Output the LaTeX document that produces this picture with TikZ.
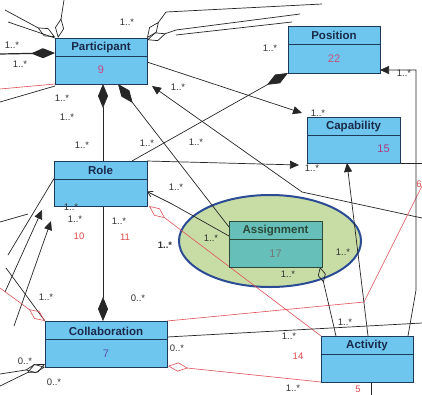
\documentclass[tikz,border=0pt]{standalone}
\usepackage{fontspec}
\newfontfamily\lsans{Liberation Sans}
\usetikzlibrary{arrows.meta,calc,shapes.geometric}
\definecolor{boxblue}{HTML}{6EC6EE}
\definecolor{boxline}{HTML}{1E3A5A}
\definecolor{teal}{HTML}{66BFB8}
\definecolor{tealline}{HTML}{2C4A3A}
\definecolor{ellfill}{HTML}{C8DDA6}
\definecolor{elldraw}{HTML}{2B4C94}
\definecolor{titlecol}{HTML}{1A2A4A}
\definecolor{redl}{HTML}{E0505A}
\definecolor{lblred}{HTML}{E04848}
\definecolor{lbl}{HTML}{333333}
\begin{document}
\begin{tikzpicture}[x=1pt,y=-1pt,
  box/.style={draw=boxline,fill=boxblue,line width=0.9pt,inner sep=0pt,outer sep=0pt},
  abox/.style={draw=tealline,fill=teal,line width=0.9pt,inner sep=0pt,outer sep=0pt},
  ttl/.style={font=\lsans\bfseries\fontsize{11.5}{12}\selectfont,text=titlecol,inner sep=0pt},
  num/.style={font=\lsans\fontsize{11}{12}\selectfont,inner sep=0pt},
  lb/.style={font=\lsans\fontsize{9.5}{10}\selectfont,text=lbl,inner sep=0pt},
  rlb/.style={font=\lsans\fontsize{9.5}{10}\selectfont,text=lblred,inner sep=0pt},
  conn/.style={draw=black!85,line width=0.7pt},
  rconn/.style={draw=redl,line width=0.6pt},
  fdia/.style={{Diamond[length=24pt,width=10pt]}-},
  fdiaend/.style={-{Diamond[length=24pt,width=10pt]}},
  odia/.style={{Diamond[open,length=20pt,width=9pt]}-},
  tri/.style={-{Triangle[length=9pt,width=8pt]}},
  trist/.style={{Triangle[length=9pt,width=8pt]}-},
  divl/.style={draw=boxline,line width=0.8pt}]
\useasboundingbox (0,0) rectangle (422,394);
\clip (0,0) rectangle (422,394);
\fill[white] (0,0) rectangle (422,394);

% ellipse highlight
\node[ellipse,draw=elldraw,fill=ellfill,line width=2pt,minimum width=182pt,minimum height=92pt,inner sep=0pt] (E) at (270,241) {};

% boxes (placed first; drawn later on top)
\path (101,61) node[minimum width=92pt,minimum height=46pt,inner sep=0pt,outer sep=0pt] (P) {};
\path (334,49.5) node[minimum width=92pt,minimum height=47pt,inner sep=0pt,outer sep=0pt] (Pos) {};
\path (353.5,140) node[minimum width=93pt,minimum height=46pt,inner sep=0pt,outer sep=0pt] (C) {};
\path (100.5,183.5) node[minimum width=93pt,minimum height=45pt,inner sep=0pt,outer sep=0pt] (R) {};
\path (275.5,244) node[minimum width=93pt,minimum height=46pt,inner sep=0pt,outer sep=0pt] (A) {};
\path (106,344) node[minimum width=122pt,minimum height=46pt,inner sep=0pt,outer sep=0pt] (Col) {};
\path (367,359) node[minimum width=92pt,minimum height=46pt,inner sep=0pt,outer sep=0pt] (Act) {};

% free ends
\coordinate (a1) at (0,54);
\coordinate (b1) at (0,89);
\coordinate (c1) at (0,102);
\coordinate (d1) at (5,10);
\coordinate (d2) at (64,0);
\coordinate (d3) at (8,22);
\coordinate (e1) at (166,12);
\coordinate (e2) at (322,4);
\coordinate (e3) at (176,30);
\coordinate (e4) at (300,14);
\coordinate (e5) at (176,35);
\coordinate (e6) at (292,22);
\coordinate (i1) at (302,192);
\coordinate (i2) at (422,218);
\coordinate (l1) at (172,204);
\coordinate (o1) at (364,302);
\coordinate (o2) at (426,178);
\coordinate (p1) at (422,323);
\coordinate (t1) at (416,290);
\coordinate (t2) at (416,70);
\coordinate (u1) at (422,163);
\coordinate (v1) at (371,400);
\coordinate (w1) at (8,255);
\coordinate (w2) at (5,292);
\coordinate (w3) at (14,326);
\coordinate (w4) at (0,222);
\coordinate (w5) at (28,214);
\coordinate (x1) at (6,268);
\coordinate (x2) at (0,288);
\coordinate (y1) at (0,374);
\coordinate (y2) at (0,386);

% connectors
\draw[conn,line width=1.2pt,fdia] ($(P.north west)+(0,15)$) -- (a1);
\draw[rconn] (P.south west) -- (b1);
\draw[conn] (c1) -- ($(P.south west)+(0,2)$);
\draw[conn,odia] ($(P.north west)+(0,-1)$) -- (d1);
\draw[conn,odia] ($(P.north west)+(3,0)$) -- (d2);
\draw[conn] (d3) -- (P.north west);
\draw[conn,odia] (P.north east) -- (e1) -- (e2);
\draw[conn,odia] ($(P.north east)+(0,2)$) -- (e3) -- (e4);
\draw[conn] (e5) -- (e6);
\draw[conn,fdia] ($(P.south west)+(48,0)$) -- ($(R.north west)+(49,0)$);
\draw[conn,fdia] ($(P.south west)+(63,0)$) -- ($(A.north west)+(0,6)$);
\draw[conn,tri] ($(P.north east)+(0,24)$) -- ($(C.north west)+(-5,-4)$);
\draw[conn,trist] ($(P.south east)+(5,2)$) -- (i1) -- (i2);
\draw[conn,fdiaend] ($(R.north west)+(78,0)$) -- (Pos.south west);
\draw[conn,tri] (R.north east) -- ($(C.south west)+(-8,2)$);
\draw[conn,{Straight Barb[length=5pt,width=6pt]}-] ($(R.east)+(0,8)$) -- (l1) -- ($(A.west)+(0,-8)$);
\draw[conn,fdiaend] ($(R.south west)+(49,0)$) -- ($(Col.north west)+(58,0)$);
\draw[rconn,odia] ($(R.south east)+(2,0)$) -- (Act.north west);
\draw[rconn] (Col.north east) -- (o1) -- (o2);
\draw[conn] ($(Col.east)+(0,-7)$) -- (p1);
\draw[rconn,odia] ($(Col.south east)+(1,-1)$) -- (Act.south west);
\draw[conn,{Diamond[open,length=16pt,width=8pt]}-] ($(A.south east)+(-2,0)$) -- ($(Act.north west)+(15,0)$);
\draw[conn,tri] ($(Act.north)+(1,0)$) -- ($(C.south west)+(40,0)$);
\draw[conn,tri] ($(Act.north east)+(-5,0)$) -- (t1) -- (t2) -- ($(Pos.south east)+(0,-3)$);
\draw[conn] (C.south east) -- (u1);
\draw[conn] ($(Act.south)+(4,0)$) -- (v1);
\draw[conn] ($(R.west)+(0,-5)$) -- (w1);
\draw[conn,tri] (w2) -- ($(R.south west)+(-12,4)$);
\draw[conn,tri] (w3) -- ($(R.south west)+(-3,15)$);
\draw[conn] (w4) -- (w5);
\draw[conn] (x1) -- (Col.north west);
\draw[rconn,odia] (Col.north west) -- (x2);
\draw[conn,odia] (Col.south west) -- (y1);
\draw[conn,odia] ($(Col.south west)+(0,-3)$) -- (y2);

% boxes drawn
\foreach \n in {P,Pos,C,R,Col,Act}{
  \draw[box] (\n.north west) rectangle (\n.south east);
  \draw[divl] ($(\n.north west)+(0,18)$) -- ($(\n.north east)+(0,18)$);
}
\draw[abox] (A.north west) rectangle (A.south east);
\draw[draw=tealline,line width=0.8pt] ($(A.north west)+(0,18)$) -- ($(A.north east)+(0,18)$);

% titles
\node[ttl] (Pt) at ($(P.north)+(0,9.5)$) {Participant};
\node[ttl] (Post) at ($(Pos.north)+(0,9.5)$) {Position};
\node[ttl] (Ct) at ($(C.north)+(0,10)$) {Capability};
\node[ttl] (Rt) at ($(R.north)+(0,9)$) {Role};
\node[ttl,text=tealline] (At) at ($(A.north)+(0,10)$) {Assignment};
\node[ttl] (Colt) at ($(Col.north)+(0,10)$) {Collaboration};
\node[ttl] (Actt) at ($(Act.north)+(0,10)$) {Activity};

% numbers
\node[num,text={rgb,255:red,210;green,70;blue,130}] (Pn) at ($(P.south)+(0,-14)$) {9};
\node[num,text={rgb,255:red,200;green,80;blue,120}] (Posn) at ($(Pos.south)+(0,-14)$) {22};
\node[num,text={rgb,255:red,170;green,60;blue,130}] (Cn) at ($(C.south)+(30,-14)$) {15};
\node[num,text={rgb,255:red,120;green,120;blue,120}] (An) at ($(A.south)+(0,-13)$) {17};
\node[num,text={rgb,255:red,90;green,80;blue,170}] (Coln) at ($(Col.south)+(0,-13)$) {7};

% multiplicity labels
\node[lb] (m1) at (12,45) {1..*};
\node[lb] (m2) at (20,64) {1..*};
\node[lb] (m3) at (127,22) {1..*};
\node[lb] (m4) at (62,98) {1..*};
\node[lb] (m5) at (67,117) {1..*};
\node[lb] (m6) at (178,87) {1..*};
\node[lb] (m7) at (270,48) {1..*};
\node[lb] (m8) at (404,73) {1..*};
\node[lb] (m9) at (318,113) {1..*};
\node[lb] (m10) at (147,143) {1..*};
\node[lb] (m11) at (196,142) {1..*};
\node[lb] (m12) at (82,145) {1..*};
\node[lb] (m13) at (312,168) {1..*};
\node[lb] (m14) at (176,187) {1..*};
\node[lb] (m15) at (71,207) {1..*};
\node[lb] (m16) at (75,219) {1..*};
\node[lb] (m17) at (119,221) {1..*};
\node[lb,font=\lsans\bfseries\fontsize{9.5}{10}\selectfont] (m18) at (165,245) {1..*};
\node[lb] (m19) at (211,238) {1..*};
\node[lb] (m20) at (288,274) {1..*};
\node[lb] (m21) at (343,252) {1..*};
\node[lb] (m22) at (46,297) {1..*};
\node[lb] (m23) at (138,298) {0..*};
\node[lb] (m24) at (25,361) {0..*};
\node[lb] (m25) at (54,382) {0..*};
\node[lb] (m26) at (177,348) {0..*};
\node[lb] (m27) at (289,336) {1..*};
\node[lb] (m28) at (345,322) {1..*};
\node[lb] (m29) at (293,388) {1..*};

% red numbers
\node[rlb] (r10) at (79,236) {10};
\node[rlb] (r11) at (125,237) {11};
\node[rlb] (r14) at (298,356) {14};
\node[rlb] (r6) at (419,184) {6};
\node[rlb] (r5) at (358,389) {5};
\end{tikzpicture}
\end{document}
